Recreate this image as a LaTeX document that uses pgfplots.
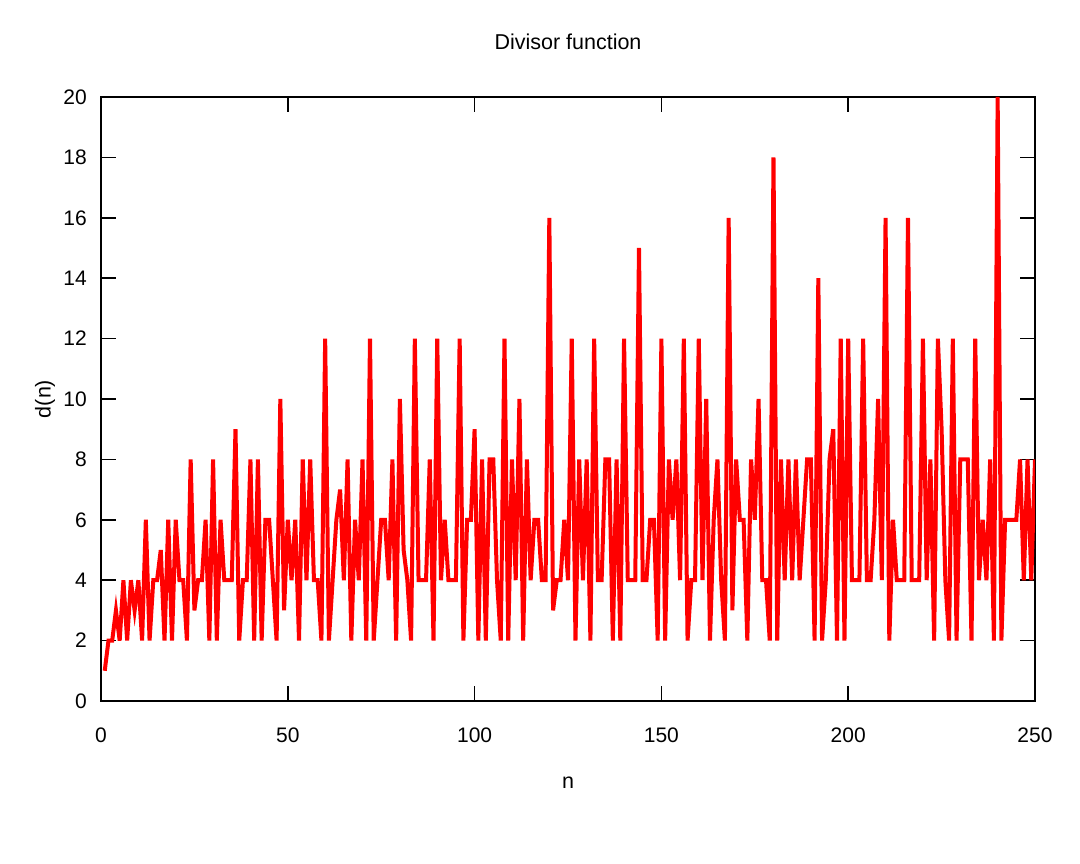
\documentclass[border=0pt]{standalone}
\usepackage{pgfplots}
\pgfplotsset{compat=1.18}
\usepackage{fontspec}
\setmainfont{Liberation Sans}
\begin{document}
\fontsize{21.5bp}{25bp}\selectfont
\begin{tikzpicture}[x=1bp,y=1bp]
\begin{axis}[
  at={(0,0)}, anchor=origin,
  scale only axis,
  width=934bp, height=604bp,
  xmin=0, xmax=250, ymin=0, ymax=20,
  xtick={0,50,100,150,200,250},
  ytick={0,2,4,6,8,10,12,14,16,18,20},
  tick align=inside,
  major tick length=15bp,
  tick style={line width=1.5bp, black},
  axis line style={line width=1.8bp, black},
  /pgf/number format/assume math mode=true,
  tick label style={font=\fontsize{21bp}{25bp}\selectfont},
  xticklabel style={anchor=center, yshift=-34bp},
  yticklabel style={anchor=east, inner sep=0pt, xshift=-14bp},
  title={Divisor function},
  title style={anchor=center, at={(axis description cs:0.5,1)}, yshift=49bp, font=\fontsize{21.5bp}{25bp}\selectfont},
  xlabel={n},
  xlabel style={anchor=center, at={(axis description cs:0.5,0)}, yshift=-82bp, font=\fontsize{21.5bp}{25bp}\selectfont},
  ylabel={d(n)},
  ylabel style={anchor=center, at={(axis description cs:0,0.5)}, yshift=56bp, font=\fontsize{21.5bp}{25bp}\selectfont},
]
\addplot[color=red, line width=4bp, mark=none, line join=miter] coordinates {
(1,1)(2,2)(3,2)(4,3)(5,2)(6,4)(7,2)(8,4)(9,3)(10,4)
(11,2)(12,6)(13,2)(14,4)(15,4)(16,5)(17,2)(18,6)(19,2)(20,6)
(21,4)(22,4)(23,2)(24,8)(25,3)(26,4)(27,4)(28,6)(29,2)(30,8)
(31,2)(32,6)(33,4)(34,4)(35,4)(36,9)(37,2)(38,4)(39,4)(40,8)
(41,2)(42,8)(43,2)(44,6)(45,6)(46,4)(47,2)(48,10)(49,3)(50,6)
(51,4)(52,6)(53,2)(54,8)(55,4)(56,8)(57,4)(58,4)(59,2)(60,12)
(61,2)(62,4)(63,6)(64,7)(65,4)(66,8)(67,2)(68,6)(69,4)(70,8)
(71,2)(72,12)(73,2)(74,4)(75,6)(76,6)(77,4)(78,8)(79,2)(80,10)
(81,5)(82,4)(83,2)(84,12)(85,4)(86,4)(87,4)(88,8)(89,2)(90,12)
(91,4)(92,6)(93,4)(94,4)(95,4)(96,12)(97,2)(98,6)(99,6)(100,9)
(101,2)(102,8)(103,2)(104,8)(105,8)(106,4)(107,2)(108,12)(109,2)(110,8)
(111,4)(112,10)(113,2)(114,8)(115,4)(116,6)(117,6)(118,4)(119,4)(120,16)
(121,3)(122,4)(123,4)(124,6)(125,4)(126,12)(127,2)(128,8)(129,4)(130,8)
(131,2)(132,12)(133,4)(134,4)(135,8)(136,8)(137,2)(138,8)(139,2)(140,12)
(141,4)(142,4)(143,4)(144,15)(145,4)(146,4)(147,6)(148,6)(149,2)(150,12)
(151,2)(152,8)(153,6)(154,8)(155,4)(156,12)(157,2)(158,4)(159,4)(160,12)
(161,4)(162,10)(163,2)(164,6)(165,8)(166,4)(167,2)(168,16)(169,3)(170,8)
(171,6)(172,6)(173,2)(174,8)(175,6)(176,10)(177,4)(178,4)(179,2)(180,18)
(181,2)(182,8)(183,4)(184,8)(185,4)(186,8)(187,4)(188,6)(189,8)(190,8)
(191,2)(192,14)(193,2)(194,4)(195,8)(196,9)(197,2)(198,12)(199,2)(200,12)
(201,4)(202,4)(203,4)(204,12)(205,4)(206,4)(207,6)(208,10)(209,4)(210,16)
(211,2)(212,6)(213,4)(214,4)(215,4)(216,16)(217,4)(218,4)(219,4)(220,12)
(221,4)(222,8)(223,2)(224,12)(225,9)(226,4)(227,2)(228,12)(229,2)(230,8)
(231,8)(232,8)(233,2)(234,12)(235,4)(236,6)(237,4)(238,8)(239,2)(240,20)
(241,2)(242,6)(243,6)(244,6)(245,6)(246,8)(247,4)(248,8)(249,4)(250,8)
};
\end{axis}
\path[use as bounding box] (-101,-163) rectangle (979,701);
\end{tikzpicture}
\end{document}
